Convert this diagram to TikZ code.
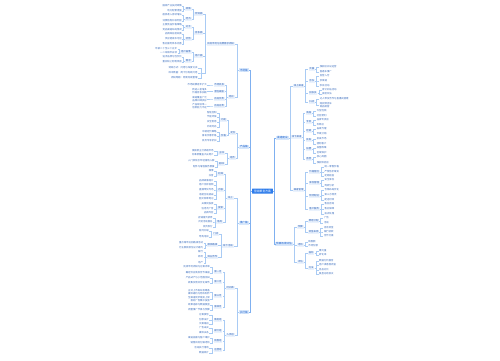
\documentclass[tikz,border=0pt]{standalone}
\usepackage{fontspec}
\newfontfamily\cjk{Noto Sans CJK SC}
\definecolor{lineblue}{HTML}{A9CBF4}
\definecolor{mainblue}{HTML}{7FB0F0}
\definecolor{txt}{HTML}{3D6FBF}
\definecolor{midfill}{HTML}{EAF2FD}
\definecolor{midtxt}{HTML}{2F62B5}
\definecolor{lfill}{HTML}{D7E7FB}
\definecolor{ltxt}{HTML}{2467CF}
\definecolor{rootblue}{HTML}{2E7CEB}
\tikzset{
  conn/.style={draw=lineblue, line width=0.45pt},
  mainconn/.style={draw=mainblue, line width=0.8pt},
  leafL/.style={inner sep=0.4pt, text=txt, align=right},
  leafR/.style={inner sep=0.4pt, text=txt, align=left},
  midL/.style={fill=midfill, inner xsep=0.8pt, inner ysep=0.6pt, text=midtxt},
  midR/.style={fill=midfill, inner xsep=0.8pt, inner ysep=0.6pt, text=midtxt},
  emptyn/.style={inner sep=0pt, minimum size=0pt},
  lvlone/.style={fill=lfill, text=ltxt, inner xsep=1pt, inner ysep=0.9pt, font=\cjk\fontsize{2.6}{3}\selectfont},
  rootn/.style={fill=rootblue, text=white, inner xsep=2pt, inner ysep=1.2pt, rounded corners=0.4pt, font=\cjk\fontsize{2.8}{3.2}\selectfont}
}
\newcommand\mmL[6]{%
  \path (#1.west) ++(-#3,0) coordinate (mmtmp);
  \node[#5,anchor=east] (#2) at (mmtmp |- 0,#4) {#6};
  \draw[conn] (#1.west) -- ++(-1.3,0) |- (#2.east);}
\newcommand\mmR[6]{%
  \path (#1.east) ++(#3,0) coordinate (mmtmp);
  \node[#5,anchor=west] (#2) at (mmtmp |- 0,#4) {#6};
  \draw[conn] (#1.east) -- ++(1.3,0) |- (#2.west);}
\begin{document}
\begin{tikzpicture}[x=1pt,y=-1pt,font=\cjk\fontsize{2.4}{2.9}\selectfont]
\fill[white] (0,0) rectangle (500,360);
\useasboundingbox (0,0) rectangle (500,360);

% root and first level
\node[rootn] (root) at (262.5,191) {营销策划方案};
\node[lvlone,anchor=east] (La) at (249,70) {市场篇};
\node[lvlone,anchor=east] (Lb) at (249,147) {产品篇};
\node[lvlone,anchor=east] (Lc) at (249,223) {推广篇};
\node[lvlone,anchor=east] (Ld) at (249,312) {执行篇};
\node[lvlone,anchor=west] (Ra) at (276,138) {渠道建设};
\node[lvlone,anchor=west] (Rb) at (275,244) {预算效果评估};
\foreach \t in {La,Lb,Lc,Ld} \draw[mainconn] (root.west) -- ++(-1.5,0) |- (\t.east);
\foreach \t in {Ra,Rb} \draw[mainconn] (root.east) -- ++(1.5,0) |- (\t.west);

% ---------- La ----------
\mmL{La}{S1}{4}{44}{midL}{目标市场与消费需求调研}
\mmL{La}{S2}{4}{97}{midL}{结论}
\mmL{S1}{A1}{3}{14}{midL}{宏观面}
\mmL{A1}{B1}{2.5}{9}{midL}{政策}
\mmL{B1}{b1a}{2.5}{6}{leafL}{国家产业扶持政策}
\mmL{B1}{b1b}{2.5}{11}{leafL}{地方配套措施}
\mmL{A1}{B2}{2.5}{19}{midL}{经济}
\mmL{B2}{b2a}{2.5}{15}{leafL}{居民收入持续增长}
\mmL{B2}{b2b}{2.5}{21}{leafL}{消费结构升级明显}
\mmL{S1}{A2}{3}{33}{midL}{竞争面}
\mmL{A2}{B3}{2.5}{27}{midL}{对手}
\mmL{B3}{b3a}{2.5}{25}{leafL}{主要竞品价格策略}
\mmL{B3}{b3b}{2.5}{30}{leafL}{竞品渠道布局情况}
\mmL{A2}{B4}{2.5}{39}{midL}{优势}
\mmL{B4}{b4a}{2.5}{34}{leafL}{品牌知名度较高}
\mmL{B4}{b4b}{2.5}{39}{leafL}{供应链成本可控}
\mmL{B4}{b4c}{2.5}{44}{leafL}{售后服务体系完善}
\mmL{S1}{A3}{3}{56}{midL}{用户面}
\mmL{A3}{B5}{2.5}{52}{midL}{用户画像}
\mmL{B5}{b5a}{2.5}{49}{leafL}{年龄二十至三十五岁}
\mmL{B5}{b5b}{2.5}{53}{leafL}{一二线城市白领}
\mmL{A3}{B6}{2.5}{61}{midL}{需求}
\mmL{B6}{b6a}{2.5}{57}{leafL}{追求品质与性价比}
\mmL{B6}{b6b}{2.5}{62}{leafL}{重视线上购物体验}
\mmL{S1}{A4}{3}{73}{emptyn}{}
\mmL{A4}{a4a}{5}{68}{leafL}{调研方式：问卷与深度访谈}
\mmL{A4}{a4b}{5}{73}{leafL}{样本数量：两千份有效问卷}
\mmL{A4}{a4c}{5}{78}{leafL}{调研周期：两周完成整理}
\mmL{S2}{C1}{3}{85}{midL}{市场机会}
\mmL{C1}{c1a}{6}{85}{leafL}{市场规模逐年扩大}
\mmL{S2}{C2}{3}{91.5}{midL}{潜在威胁}
\mmL{C2}{c2a}{6}{91.5}{leafL}{新进入者增多\\价格竞争加剧}
\mmL{S2}{C3}{3}{99}{midL}{自身优势}
\mmL{C3}{c3a}{6}{99}{leafL}{渠道覆盖广泛\\品牌口碑良好}
\mmL{S2}{C4}{3}{106}{midL}{自身劣势}
\mmL{C4}{c4a}{6}{106}{leafL}{产品线较单一\\创新能力不足}

% ---------- Lb ----------
\mmL{Lb}{D1}{2.5}{133}{midL}{定位}
\mmL{D1}{E1}{2.5}{120}{midL}{功能}
\mmL{E1}{e1a}{3}{113}{leafL}{智能控制}
\mmL{E1}{e1b}{3}{117}{leafL}{节能环保}
\mmL{E1}{e1c}{3}{122}{leafL}{安全耐用}
\mmL{E1}{e1d}{3}{127}{leafL}{外观时尚}
\mmL{D1}{E2}{2.5}{135.5}{midL}{价格}
\mmL{E2}{e2a}{3}{132}{leafL}{中端定价策略}
\mmL{E2}{e2b}{3}{136}{leafL}{首发优惠价格}
\mmL{E2}{e2c}{3}{141}{leafL}{会员专享折扣}
\mmL{Lb}{D2}{3}{158}{midL}{组合}
\mmL{D2}{E3}{4}{153}{midL}{主线}
\mmL{E3}{e3a}{4}{151}{leafL}{旗舰款主打高端市场}
\mmL{E3}{e3b}{4}{155}{leafL}{标准款覆盖大众用户}
\mmL{D2}{E4}{4}{164}{midL}{副线}
\mmL{E4}{e4a}{3}{161}{leafL}{入门款吸引年轻首购人群}
\mmL{E4}{e4b}{3}{167}{leafL}{配件与增值服务套餐}

% ---------- Lc ----------
\mmL{Lc}{F1}{5}{198}{midL}{线上}
\mmL{F1}{G1}{3}{174}{midL}{社媒}
\mmL{G1}{g1a}{3}{171}{leafL}{微博}
\mmL{G1}{g1b}{3}{176}{leafL}{抖音}
\mmL{F1}{G2}{3}{190}{midL}{内容}
\mmL{G2}{g2a}{3}{181}{leafL}{品牌故事短片}
\mmL{G2}{g2b}{3}{185}{leafL}{用户测评视频}
\mmL{G2}{g2c}{3}{190}{leafL}{直播带货专场}
\mmL{G2}{g2d}{3}{195}{leafL}{话题互动挑战}
\mmL{G2}{g2e}{3}{199}{leafL}{图文种草笔记}
\mmL{F1}{G3}{3}{208}{midL}{搜索}
\mmL{G3}{g3a}{3}{204}{leafL}{关键词投放}
\mmL{G3}{g3b}{3}{209}{leafL}{信息流广告}
\mmL{G3}{g3c}{3}{213}{leafL}{品牌专区}
\mmL{F1}{G4}{4}{222}{midL}{电商}
\mmL{G4}{g4a}{3}{218}{leafL}{店铺首页装修}
\mmL{G4}{g4b}{3}{222}{leafL}{大促活动报名}
\mmL{G4}{g4c}{3}{227}{leafL}{会员积分}
\mmL{Lc}{F2}{5}{246}{midL}{线下活动}
\mmL{F2}{G5}{3}{234}{midL}{门店}
\mmL{G5}{g5a}{3}{231}{leafL}{陈列升级}
\mmL{G5}{g5b}{3}{237}{leafL}{导购培训}
\mmL{F2}{G6}{4}{245}{midL}{展会路演}
\mmL{G6}{g6a}{3}{243}{leafL}{重点城市巡回路演活动}
\mmL{G6}{g6b}{3}{248}{leafL}{行业展会展位设计邀约}
\mmL{F2}{G7}{4}{257}{midL}{异业合作}
\mmL{G7}{g7a}{3}{252}{leafL}{银行}
\mmL{G7}{g7b}{3}{257}{leafL}{商场}
\mmL{G7}{g7c}{3}{263}{leafL}{地产}

% ---------- Ld ----------
\mmL{Ld}{H1}{4}{288}{midL}{时间表}
\mmL{H1}{I1}{3}{272}{midL}{第一月}
\mmL{I1}{i1a}{3}{267}{leafL}{完成市场调研与方案评审}
\mmL{I1}{i1b}{3}{273}{leafL}{确定供应商及合作渠道}
\mmL{H1}{I2}{3}{282}{midL}{第二月}
\mmL{I2}{i2a}{3}{278}{leafL}{产品试产与小范围测试}
\mmL{I2}{i2b}{3}{283}{leafL}{收集反馈并优化细节}
\mmL{H1}{I3}{3}{296}{midL}{第三月}
\mmL{I3}{i3a}{3}{292.5}{leafL}{正式上市发布会筹备\\媒体邀约与物料制作}
\mmL{I3}{i3b}{3}{299.5}{leafL}{全渠道同步铺货上架\\首轮广告集中投放}
\mmL{H1}{I4}{3}{307}{midL}{第四月}
\mmL{I4}{i4a}{3}{305}{leafL}{效果追踪与数据复盘}
\mmL{I4}{i4b}{3}{310}{leafL}{调整推广节奏与预算}
\mmL{Ld}{H2}{4}{335}{midL}{人员组}
\mmL{H2}{I5}{3}{320}{midL}{策划组}
\mmL{I5}{i5a}{4}{315}{leafL}{方案撰写}
\mmL{I5}{i5b}{4}{320}{leafL}{创意设计}
\mmL{I5}{i5c}{4}{324}{leafL}{文案输出}
\mmL{H2}{I6}{3}{331}{midL}{媒介组}
\mmL{I6}{i6a}{4}{328}{leafL}{广告采买}
\mmL{I6}{i6b}{4}{333}{leafL}{媒体关系}
\mmL{H2}{I7}{3}{341}{midL}{销售组}
\mmL{I7}{i7a}{3}{338}{leafL}{渠道拓展与客户维护}
\mmL{I7}{i7b}{3}{343}{leafL}{销售目标分解考核}
\mmL{H2}{I8}{3}{350}{midL}{运营组}
\mmL{I8}{i8a}{4}{348}{leafL}{活动执行落地}
\mmL{I8}{i8b}{4}{353}{leafL}{数据统计}

% ---------- Ra ----------
\mmR{Ra}{J1}{4}{86}{midR}{线上渠道}
\mmR{J1}{K1}{4}{69}{midR}{天猫}
\mmR{K1}{k1a}{4}{67}{leafR}{旗舰店开设运营}
\mmR{K1}{k1b}{4}{72}{leafR}{直通车推广}
\mmR{J1}{K2}{4}{81}{midR}{京东}
\mmR{K2}{k2a}{4}{76}{leafR}{自营入仓}
\mmR{K2}{k2b}{4}{81}{leafR}{京准通}
\mmR{K2}{k2c}{4}{86}{leafR}{秒杀活动}
\mmR{J1}{K3}{4}{93}{midR}{拼多多}
\mmR{K3}{k3a}{4}{90}{leafR}{百亿补贴活动}
\mmR{K3}{k3b}{4}{94}{leafR}{拼团玩法}
\mmR{J1}{K4}{4}{102}{midR}{抖店}
\mmR{K4}{k4a}{4}{99}{leafR}{达人带货合作与直播间搭建}
\mmR{K4}{k4b}{4}{105}{leafR}{短视频挂车\\商品橱窗}
\mmR{Ra}{J2}{2}{137}{midR}{线下渠道}
\mmR{J2}{K5}{3}{113}{midR}{商超}
\mmR{K5}{k5a}{4}{111}{leafR}{大型连锁}
\mmR{K5}{k5b}{4}{116}{leafR}{社区便利}
\mmR{J2}{K6}{3}{122}{midR}{专卖}
\mmR{K6}{k6a}{4}{120}{leafR}{品牌专卖店}
\mmR{K6}{k6b}{4}{125}{leafR}{形象店}
\mmR{J2}{K7}{3}{131}{midR}{经销}
\mmR{K7}{k7a}{4}{129}{leafR}{省级代理}
\mmR{K7}{k7b}{4}{134}{leafR}{市级分销}
\mmR{J2}{K8}{3}{140}{midR}{批发}
\mmR{K8}{k8a}{4}{139}{leafR}{批发市场}
\mmR{K8}{k8b}{4}{144}{leafR}{团购客户}
\mmR{J2}{K9}{3}{149}{midR}{加盟}
\mmR{K9}{k9a}{4}{148}{leafR}{加盟政策}
\mmR{K9}{k9b}{4}{153}{leafR}{区域保护}
\mmR{J2}{K10}{3}{159}{midR}{直营}
\mmR{K10}{k10a}{4}{157}{leafR}{核心商圈}
\mmR{K10}{k10b}{4}{163}{leafR}{旗舰体验店}
\mmR{Ra}{J3}{4}{190}{midR}{渠道管理}
\mmR{J3}{K11}{4}{172}{midR}{价格管控}
\mmR{K11}{k11a}{4}{167}{leafR}{统一零售价格}
\mmR{K11}{k11b}{4}{172}{leafR}{严禁低价窜货}
\mmR{K11}{k11c}{4}{176}{leafR}{定期巡查}
\mmR{J3}{K12}{4}{183}{midR}{库存管理}
\mmR{K12}{k12a}{4}{180}{leafR}{安全库存}
\mmR{K12}{k12b}{4}{186}{leafR}{周转分析}
\mmR{J3}{K13}{4}{196}{midR}{物流配送}
\mmR{K13}{k13a}{4}{190}{leafR}{仓储布局优化}
\mmR{K13}{k13b}{4}{195}{leafR}{第三方物流}
\mmR{K13}{k13c}{4}{200}{leafR}{配送时效}
\mmR{J3}{K14}{4}{209}{midR}{客户服务}
\mmR{K14}{k14a}{4}{204}{leafR}{售前咨询}
\mmR{K14}{k14b}{4}{209}{leafR}{售后保障}
\mmR{K14}{k14c}{4}{214}{leafR}{投诉处理}

% ---------- Rb ----------
\mmR{Rb}{J4}{4}{227}{midR}{预算}
\mmR{J4}{K15}{4}{221}{midR}{费用分配}
\mmR{K15}{k15a}{4}{218}{leafR}{广告}
\mmR{K15}{k15b}{4}{223}{leafR}{活动}
\mmR{J4}{K16}{4}{232}{midR}{资金来源}
\mmR{K16}{k16a}{4}{228}{leafR}{自有资金}
\mmR{K16}{k16b}{4}{232}{leafR}{银行贷款}
\mmR{K16}{k16c}{4}{236}{leafR}{合作分摊}
\mmR{Rb}{J5}{4}{245}{midR}{考核}
\mmR{J5}{k5x}{4}{242}{leafR}{销售额}
\mmR{J5}{k5y}{4}{246}{leafR}{市场份额}
\mmR{Rb}{J6}{4}{262}{midR}{评估}
\mmR{J6}{K17}{4}{253}{midR}{指标}
\mmR{K17}{k17a}{4}{251}{leafR}{曝光量}
\mmR{K17}{k17b}{4}{255}{leafR}{转化率}
\mmR{J6}{K18}{4}{268}{midR}{方法}
\mmR{K18}{k18a}{4}{261}{leafR}{数据分析报告}
\mmR{K18}{k18b}{4}{265}{leafR}{用户满意度调查}
\mmR{K18}{k18c}{4}{270}{leafR}{竞品对比}
\mmR{K18}{k18d}{4}{274}{leafR}{复盘总结会议}
\end{tikzpicture}
\end{document}
